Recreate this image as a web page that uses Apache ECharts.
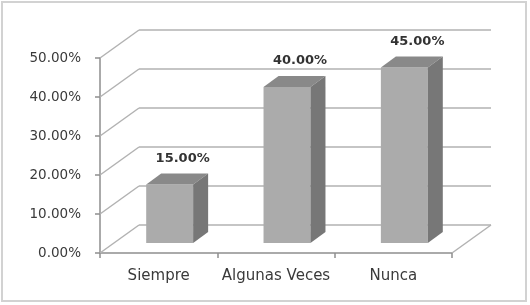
<!DOCTYPE html>
<html><head><meta charset="utf-8">
<script src="https://cdn.jsdelivr.net/npm/echarts@6/dist/echarts.min.js"></script>
<style>html,body{margin:0;padding:0;background:#fff}#c{width:530px;height:305px}</style>
</head><body><div id="c"></div>
<script>
const categories = ['Siempre', 'Algunas Veces', 'Nunca'];
const values = [0.15, 0.40, 0.45];
const yTicks = [0, 0.1, 0.2, 0.3, 0.4, 0.5];

const FONT = 'DejaVu Sans';
const DEPTH = [39, -28];      // wall depth offset (px)
const BAR_FRONT = [11, -10];  // bar front-face offset
const BAR_BACK = [26, -21];   // bar back-face offset
const GRID_COLOR = '#b2b2b2';
const AXIS_COLOR = '#8e8e8e';

const pct = v => (v * 100).toFixed(2) + '%';

function wallItem(params, api) {
  const cs = params.coordSys;
  const v = api.value(1);
  const y = api.coord([0, v])[1];
  const x0 = cs.x, x1 = cs.x + cs.width;
  const st = {stroke: GRID_COLOR, lineWidth: 1.5};
  const children = [
    {type: 'line', shape: {x1: x0, y1: y, x2: x0 + DEPTH[0], y2: y + DEPTH[1]}, style: st},
    {type: 'line', shape: {x1: x0 + DEPTH[0], y1: y + DEPTH[1], x2: x1 + DEPTH[0], y2: y + DEPTH[1]}, style: st}
  ];
  if (v === 0) {
    children.push({type: 'line', shape: {x1: x1, y1: y, x2: x1 + DEPTH[0], y2: y + DEPTH[1]}, style: st});
  }
  return {type: 'group', children};
}

function barItem(params, api) {
  const idx = api.value(0), v = api.value(1);
  const base = api.coord([idx, 0]);
  const top = api.coord([idx, v]);
  const band = api.size([1, 0])[0];
  const w = band * 0.4;
  const xl = base[0] - w / 2 + BAR_FRONT[0], xr = xl + w;
  const yb = base[1] + BAR_FRONT[1], yt = top[1] + BAR_FRONT[1];
  const dx = BAR_BACK[0] - BAR_FRONT[0], dy = BAR_BACK[1] - BAR_FRONT[1];
  return {type: 'group', children: [
    {type: 'rect', shape: {x: xl, y: yt, width: w, height: yb - yt}, style: {fill: '#ababab'}},
    {type: 'polygon', shape: {points: [[xl, yt], [xr, yt], [xr + dx, yt + dy], [xl + dx, yt + dy]]}, style: {fill: '#898989'}},
    {type: 'polygon', shape: {points: [[xr, yt], [xr + dx, yt + dy], [xr + dx, yb + dy], [xr, yb]]}, style: {fill: '#777777'}},
    {type: 'text', style: {text: pct(v), x: (xl + xr) / 2 + dx - 2, y: yt + dy - 15,
      align: 'center', verticalAlign: 'middle', fontFamily: FONT, fontSize: 13, fontWeight: 'bold', fill: '#333333'}}
  ]};
}

const chart = echarts.init(document.getElementById('c'), null, {renderer: 'canvas'});
chart.setOption({
  animation: false,
  backgroundColor: '#ffffff',
  graphic: [{type: 'rect', shape: {x: 2, y: 2, width: 524, height: 299},
    style: {fill: 'transparent', stroke: '#d2d2d2', lineWidth: 2}}],
  grid: {left: 100, right: 78, top: 58, bottom: 52, containLabel: false},
  xAxis: {
    type: 'category', data: categories,
    axisLine: {show: true, lineStyle: {color: AXIS_COLOR, width: 1.5}},
    axisTick: {show: true, length: 5, lineStyle: {color: AXIS_COLOR, width: 1.5}},
    axisLabel: {interval: 0, fontFamily: FONT, fontSize: 15, color: '#3a3a3a', margin: 16}
  },
  yAxis: {
    type: 'value', min: 0, max: 0.5, interval: 0.1,
    axisLine: {show: true, lineStyle: {color: AXIS_COLOR, width: 1.5}},
    axisTick: {show: true, length: 5, lineStyle: {color: AXIS_COLOR, width: 1.5}},
    splitLine: {show: false},
    axisLabel: {fontFamily: FONT, fontSize: 13.5, color: '#3a3a3a', margin: 19, formatter: pct}
  },
  series: [
    {type: 'custom', renderItem: wallItem, data: yTicks.map(v => [0, v]), z: 1, silent: true},
    {type: 'custom', renderItem: barItem, data: values.map((v, i) => [i, v]), z: 3, silent: true}
  ]
});
</script></body></html>
